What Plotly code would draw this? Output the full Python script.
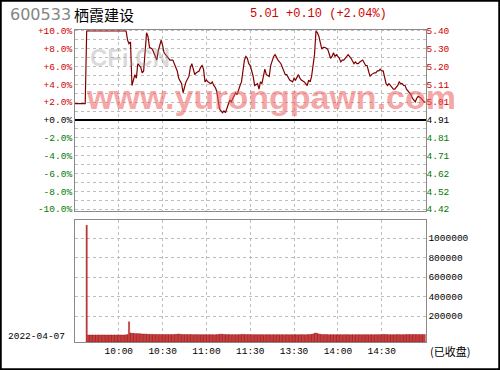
import plotly.graph_objects as go

W, H = 500, 370
PREV_CLOSE = 4.91

# ---- price data (minutes after 9:30, trading minutes) ----
minutes = [0, 7, 8, 35, 36, 37, 38, 39, 40, 41, 42, 43, 45, 46, 47, 48, 49, 50, 51, 53,
           54, 55, 56, 57, 58, 59, 60, 61, 63, 65, 67, 68, 70, 71, 73, 74, 75, 76, 78, 79,
           80, 81, 82, 83, 85, 86, 87, 88, 89, 90, 91, 93, 94, 95, 96, 97, 98, 99, 101, 102,
           103, 104, 105, 106, 107, 109, 110, 111, 112, 113, 114, 115, 116, 117, 118, 119, 120, 121, 122, 123,
           125, 126, 127, 128, 129, 130, 131, 133, 134, 135, 136, 137, 138, 139, 141, 142, 143, 144, 145, 146,
           147, 149, 150, 151, 152, 153, 154, 155, 157, 158, 159, 160, 161, 162, 163, 164, 165, 166, 167, 168,
           169, 170, 171, 173, 174, 175, 176, 177, 178, 179, 181, 182, 183, 184, 185, 186, 187, 189, 190, 191,
           192, 193, 194, 195, 197, 198, 199, 200, 201, 202, 203, 205, 206, 207, 208, 209, 210, 211, 213, 214,
           215, 216, 217, 218, 219, 221, 222, 223, 224, 225, 226, 227, 229, 230, 231, 232, 233, 234, 235, 237,
           238, 239, 240]
prices = [5.00, 5.00, 5.40, 5.40, 5.35, 5.33, 5.34, 5.10, 5.13, 5.16, 5.14, 5.22, 5.20, 5.17, 5.18, 5.29, 5.39, 5.37, 5.31, 5.30,
          5.28, 5.26, 5.24, 5.29, 5.33, 5.35, 5.32, 5.28, 5.26, 5.24, 5.24, 5.22, 5.18, 5.14, 5.11, 5.06, 5.10, 5.12, 5.15, 5.20,
          5.22, 5.19, 5.16, 5.17, 5.18, 5.20, 5.21, 5.19, 5.12, 5.13, 5.12, 5.11, 5.12, 5.10, 5.09, 5.07, 5.02, 4.97, 4.95, 4.96,
          4.95, 4.97, 4.99, 5.02, 5.01, 5.04, 5.06, 5.05, 5.08, 5.10, 5.12, 5.18, 5.24, 5.26, 5.25, 5.22, 5.21, 5.18, 5.15, 5.10,
          5.11, 5.08, 5.12, 5.11, 5.15, 5.19, 5.16, 5.15, 5.21, 5.24, 5.26, 5.27, 5.25, 5.24, 5.22, 5.20, 5.18, 5.16, 5.16, 5.14,
          5.13, 5.12, 5.14, 5.13, 5.15, 5.16, 5.14, 5.13, 5.12, 5.11, 5.10, 5.13, 5.12, 5.15, 5.20, 5.27, 5.40, 5.39, 5.37, 5.33,
          5.30, 5.31, 5.31, 5.30, 5.28, 5.25, 5.26, 5.28, 5.26, 5.27, 5.25, 5.23, 5.24, 5.24, 5.25, 5.26, 5.27, 5.25, 5.23, 5.22,
          5.23, 5.22, 5.22, 5.23, 5.24, 5.22, 5.21, 5.21, 5.18, 5.15, 5.16, 5.17, 5.17, 5.18, 5.18, 5.19, 5.18, 5.18, 5.11, 5.10,
          5.11, 5.10, 5.09, 5.08, 5.08, 5.10, 5.12, 5.11, 5.11, 5.10, 5.10, 5.08, 5.06, 5.05, 5.03, 5.02, 5.01, 5.03, 5.04, 5.03,
          5.02, 5.01, 5.01]

# ---- volume data (per minute, starting at minute 8) ----
volumes = [1130000,
           6000, 5000, 6000, 6000, 5000, 6000, 5000, 6000, 6000,
           5000, 6000, 6000, 5000, 6000, 5000, 6000, 6000, 5000, 6000,
           5000, 6000, 6000, 5000, 6000, 5000, 6000, 7000,
           9000, 141000,
           26000, 23000, 22000, 20000, 19000, 20000, 18000, 17000, 16000, 15000,
           16000, 14000, 13000, 12000, 12000, 11000, 12000, 10000, 11000, 10000,
           11000, 10000, 9000, 10000, 9000, 11000, 10000, 9000, 10000, 9000,
           10000, 12000, 14000, 15000, 13000, 11000, 10000, 9000, 10000, 9000,
           9000, 10000, 9000, 8000, 9000, 9000, 8000, 9000, 8000, 9000,
           8000, 9000, 8000, 8000, 9000, 8000, 9000, 8000, 8000, 9000,
           10000, 12000, 14000, 13000, 11000, 10000, 9000, 10000, 9000, 8000,
           9000, 8000, 9000, 8000, 9000, 10000, 11000, 12000, 11000, 10000,
           9000, 10000, 9000, 8000, 9000, 8000, 9000, 8000, 9000, 8000,
           9000, 8000, 8000, 9000, 8000, 9000, 8000, 8000, 9000, 8000,
           8000, 9000, 8000, 8000, 9000, 8000, 8000, 9000, 8000, 8000,
           9000, 8000, 8000, 9000, 8000, 8000, 9000, 8000, 9000, 8000,
           8000, 9000, 9000, 10000, 12000, 16000, 22000, 26000, 20000, 16000,
           13000, 11000, 10000, 9000, 10000, 9000, 8000, 9000, 8000, 9000,
           8000, 8000, 9000, 8000, 9000, 8000, 8000, 9000, 8000, 9000,
           8000, 8000, 9000, 8000, 8000, 9000, 8000, 9000, 8000, 8000,
           9000, 8000, 9000, 8000, 8000, 9000, 8000, 8000, 9000, 8000,
           9000, 8000, 10000, 12000, 11000, 10000, 9000, 8000, 9000, 8000,
           9000, 8000, 9000, 10000, 9000, 8000, 9000, 8000, 9000, 10000,
           11000, 10000, 9000, 10000, 11000, 10000, 9000, 10000, 9000, 10000,
           9000, 10000, 11000]
vol_minutes = list(range(8, 8 + len(volumes)))

# ---- tick labels ----
pct_ticks = list(range(-10, 11))
pct_labels = ["-10.0%", "", "-8.0%", "", "-6.0%", "", "-4.0%", "", "-2.0%", "", "+0.0%",
              "", "+2.0%", "", "+4.0%", "", "+6.0%", "", "+8.0%", "", "+10.0%"]
price_pct_ticks = [-10, -8, -6, -4, -2, 0, 2, 4, 6, 8, 10]
price_labels = ["4.42", "4.52", "4.62", "4.71", "4.81", "4.91", "5.01", "5.11", "5.20", "5.30", "5.40"]
time_ticks = [30, 60, 90, 120, 150, 180, 210]
time_labels = ["10:00", "10:30", "11:00", "11:30", "13:30", "14:00", "14:30"]
vol_ticks = [200000, 400000, 600000, 800000, 1000000]
vol_labels = ["200000", "400000", "600000", "800000", "1000000"]

RED = "#d00000"
GREEN = "#007a00"
BLACK = "#000000"


def col(v):
    return RED if v > 0 else (GREEN if v < 0 else BLACK)


pct_text = [f'<span style="color:{col(v)}">{t}</span>' if t else "" for v, t in zip(pct_ticks, pct_labels)]
price_text = [f'<span style="color:{col(v)}">{t}</span>' for v, t in zip(price_pct_ticks, price_labels)]

def px(x):
    return x / W

def py(y):
    return 1 - y / H

PCT_SPAN = 10.15
VOL_RANGE = [-66700, 1184600]

main_dom = [py(210.5), py(29.5)]
vol_dom = [py(342), py(220)]
x_dom = [px(75), px(425.5)]

mono = "Liberation Mono"

fig = go.Figure()
pct_vals = [(p / PREV_CLOSE - 1) * 100 for p in prices]
fig.add_trace(go.Scatter(x=minutes, y=pct_vals, mode="lines",
                         line=dict(color="#800000", width=1.2),
                         xaxis="x", yaxis="y", hoverinfo="skip", showlegend=False))
# right price-axis carrier
fig.add_trace(go.Scatter(x=minutes, y=pct_vals, mode="lines", opacity=0,
                         line=dict(width=0), xaxis="x", yaxis="y2",
                         hoverinfo="skip", showlegend=False))
fig.add_trace(go.Bar(x=vol_minutes, y=[v - VOL_RANGE[0] for v in volumes], base=VOL_RANGE[0],
                     marker=dict(color="#d83a3a", line=dict(color="#8b0000", width=0.4)),
                     xaxis="x2", yaxis="y3", hoverinfo="skip", showlegend=False))

grid = dict(showgrid=True, gridcolor="#bdbdbd", griddash="dot", gridwidth=1)
frame = dict(showline=True, linecolor="#8a8a8a", linewidth=1, mirror=True)

fig.update_layout(
    width=W, height=H, margin=dict(l=0, r=0, t=0, b=0),
    paper_bgcolor="white", plot_bgcolor="white", bargap=0.2,
    font=dict(family=mono, size=9.5, color="black"),
    xaxis=dict(domain=x_dom, range=[0, 240], tickvals=time_ticks, showticklabels=False,
               ticks="", zeroline=False, anchor="y", automargin=False, **grid, **frame),
    yaxis=dict(domain=main_dom, range=[-PCT_SPAN, PCT_SPAN], tickvals=pct_ticks, ticktext=pct_text,
               ticks="", zeroline=True, zerolinecolor="#000000", zerolinewidth=2,
               automargin=False, tickfont=dict(family=mono, size=9.5), **grid, **frame),
    yaxis2=dict(domain=main_dom, range=[-PCT_SPAN, PCT_SPAN], overlaying="y", side="right",
                anchor="x", tickvals=price_pct_ticks, ticktext=price_text, ticks="",
                showgrid=False, zeroline=False, automargin=False,
                tickfont=dict(family=mono, size=9.5)),
    xaxis2=dict(domain=x_dom, range=[0, 240], tickvals=time_ticks, ticktext=time_labels,
                ticks="", anchor="y3", zeroline=False, automargin=False,
                tickfont=dict(family=mono, size=9.5, color="black"), **grid, **frame),
    yaxis3=dict(domain=vol_dom, range=VOL_RANGE, tickvals=vol_ticks, ticktext=vol_labels,
                side="right", anchor="x2", ticks="", zeroline=False, automargin=False,
                tickfont=dict(family=mono, size=9.5, color="black"), **grid, **frame),
)

annotations = [
    dict(text="600533", x=px(8), y=py(14), xanchor="left", yanchor="middle",
         font=dict(family="DejaVu Sans", size=16, color="#858585")),
    dict(text="栖霞建设", x=px(72), y=py(14), xanchor="left", yanchor="middle",
         font=dict(family="Noto Sans CJK SC", size=15, color="black")),
    dict(text="5.01 +0.10 (+2.04%)", x=px(248), y=py(14), xanchor="left", yanchor="middle",
         font=dict(family=mono, size=12, color=RED)),
    dict(text="2022-04-07", x=px(6), y=py(336), xanchor="left", yanchor="middle",
         font=dict(family=mono, size=9.5, color="black")),
    dict(text="(已收盘)", x=px(450), y=py(351), xanchor="center", yanchor="middle",
         font=dict(family="Noto Sans CJK SC", size=11, color="black")),
    dict(text="<b>CFi.CN</b>", x=px(130), y=py(58), xanchor="center", yanchor="middle",
         font=dict(family="Liberation Sans", size=24, color="rgba(150,150,150,0.35)")),
    dict(text="<b>www.yurongpawn.com</b>", x=px(271), y=py(97), xanchor="center", yanchor="middle",
         font=dict(family="Liberation Sans", size=34, color="rgba(238,90,90,0.55)")),
]
for a in annotations:
    a.update(xref="paper", yref="paper", showarrow=False)
fig.update_layout(annotations=annotations)

fig.add_shape(type="rect", xref="paper", yref="paper", x0=0, y0=0, x1=1, y1=1,
              line=dict(color="black", width=3.5))

fig.write_html("out.html")
